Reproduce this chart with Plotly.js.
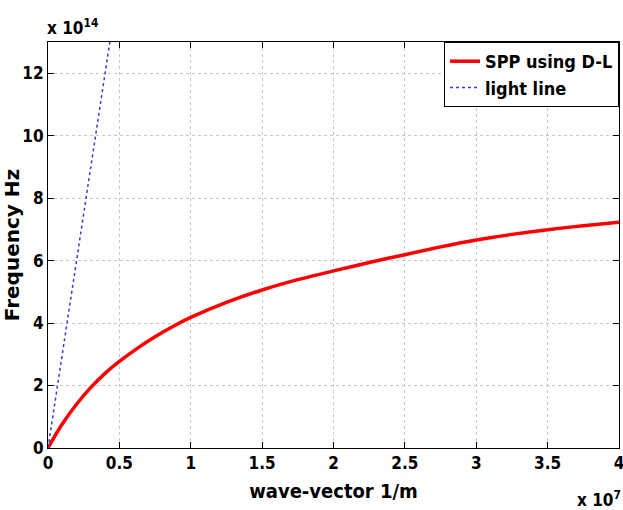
<!DOCTYPE html>
<html>
<head>
<meta charset="utf-8">
<script src="https://cdn.plot.ly/plotly-3.0.1.min.js"></script>
<style>html,body{margin:0;padding:0;background:#fff;}#chart{width:623px;height:510px;}</style>
</head>
<body>
<div id="chart"></div>
<script>
// wave-vector in units of 1e7 1/m, frequency in units of 1e14 Hz
const sppK = [0, 0.05, 0.1, 0.2, 0.3, 0.4, 0.5, 0.625, 0.75, 0.875, 1.0, 1.25, 1.5, 1.75, 2.0, 2.25, 2.5, 2.75, 3.0, 3.25, 3.5, 3.75, 4.0];
const sppF = [0, 0.4, 0.77, 1.4, 1.94, 2.39, 2.77, 3.19, 3.56, 3.89, 4.18, 4.66, 5.06, 5.39, 5.67, 5.94, 6.19, 6.44, 6.66, 6.84, 6.99, 7.12, 7.23];
const lightK = [0, 0.4333];
const lightF = [0, 13];
const xTicks = [0, 0.5, 1, 1.5, 2, 2.5, 3, 3.5, 4];
const yTicks = [0, 2, 4, 6, 8, 10, 12];

const narrow = 'DejaVu Sans Condensed, Liberation Sans Narrow, Arial Narrow, sans-serif';
const tickFont = {family: narrow, size: 17, color: '#000', weight: 'bold'};

const data = [
  {x: sppK, y: sppF, mode: 'lines', name: 'SPP using D-L', line: {color: '#ff0000', width: 3.5, shape: 'spline', smoothing: 0.6}},
  {x: lightK, y: lightF, mode: 'lines', name: 'light line', line: {color: '#3a3acc', width: 1.5, dash: 'dot'}}
];

const layout = {
  width: 623, height: 510,
  margin: {l: 48, r: 4, t: 42, b: 62},
  paper_bgcolor: '#fff', plot_bgcolor: '#fff',
  showlegend: true,
  legend: {x: 1, y: 1, xanchor: 'right', yanchor: 'top', bordercolor: '#000', borderwidth: 1,
    bgcolor: '#fff', font: {family: narrow, size: 18, color: '#000', weight: 'bold'},
    tracegroupgap: 0, itemwidth: 30},
  xaxis: {
    range: [0, 4], tickvals: xTicks, ticktext: xTicks.map(String),
    ticks: 'inside', ticklen: 6, tickcolor: '#000', showline: true, linecolor: '#000', mirror: 'ticks',
    showgrid: true, gridcolor: '#c8c8c8', griddash: 'dot', zeroline: false,
    tickfont: tickFont, ticklabeloverflow: 'allow',
    title: {text: 'wave-vector 1/m', font: {family: narrow, size: 20, color: '#000', weight: 'bold'}, standoff: 11}
  },
  yaxis: {
    range: [0, 13], tickvals: yTicks, ticktext: yTicks.map(String),
    ticks: 'inside', ticklen: 6, tickcolor: '#000', showline: true, linecolor: '#000', mirror: 'ticks',
    showgrid: true, gridcolor: '#c8c8c8', griddash: 'dot', zeroline: false,
    tickfont: tickFont, ticklabeloverflow: 'allow',
    title: {text: 'Frequency Hz', font: {family: 'DejaVu Sans, sans-serif', size: 20, color: '#000', weight: 'bold'}, standoff: 6}
  },
  annotations: [
    {xref: 'paper', yref: 'paper', x: 0, y: 1, xanchor: 'left', yanchor: 'bottom', xshift: -3, yshift: 2, showarrow: false,
     text: 'x 10<sup>14</sup>', font: {family: narrow, size: 17, color: '#000', weight: 'bold'}},
    {xref: 'paper', yref: 'paper', x: 1, y: 0, xanchor: 'right', yanchor: 'top', xshift: 4, yshift: -38, showarrow: false,
     text: 'x 10<sup>7</sup>', font: {family: narrow, size: 17, color: '#000', weight: 'bold'}}
  ]
};

Plotly.newPlot('chart', data, layout, {staticPlot: true});
</script>
</body>
</html>
